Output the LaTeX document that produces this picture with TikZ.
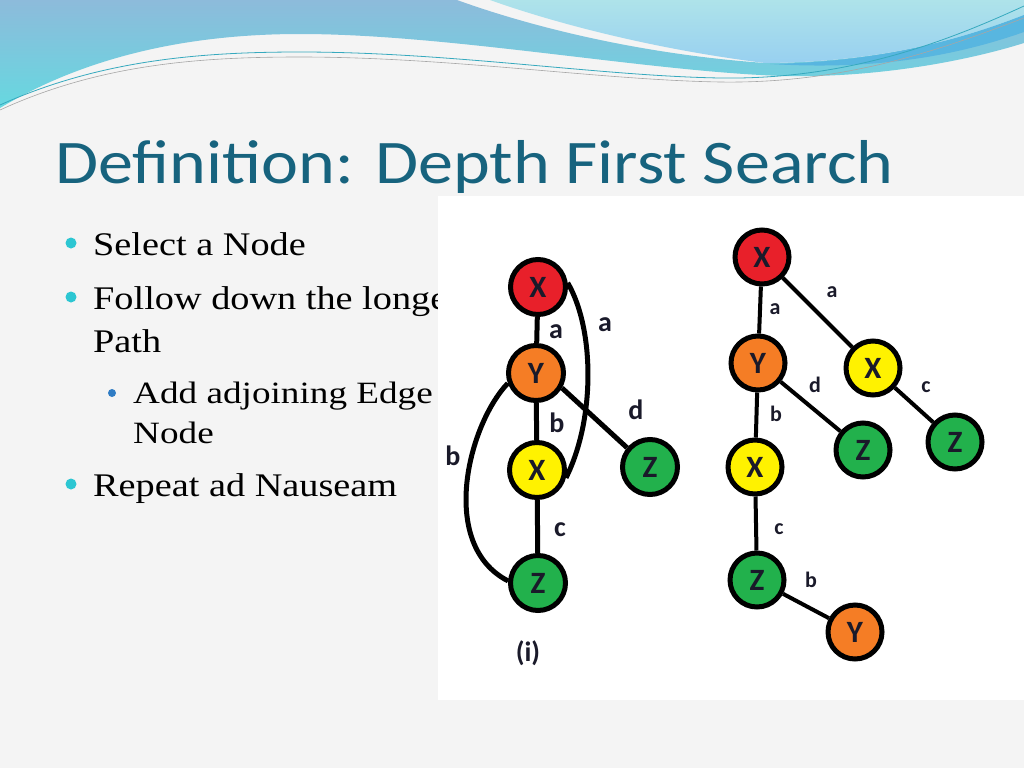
\documentclass[tikz,border=0pt]{standalone}
\usepackage{fontspec}
\setmainfont{Liberation Serif}
\newfontfamily\calfont{Carlito}
\usetikzlibrary{calc}
\definecolor{bgc}{HTML}{F4F4F4}
\definecolor{titlec}{HTML}{17637E}
\definecolor{bulc}{HTML}{2CC6D2}
\definecolor{subbulc}{HTML}{2F7CC4}
\definecolor{cred}{HTML}{E8202A}
\definecolor{corange}{HTML}{F57D25}
\definecolor{cyellow}{HTML}{FFF200}
\definecolor{cgreen}{HTML}{22B14C}
\definecolor{txtdark}{HTML}{1A1A2A}
\definecolor{bandtop}{HTML}{8DBBDB}
\definecolor{bandbot}{HTML}{66D8E0}
\definecolor{lightcy}{HTML}{AEE3EA}
\definecolor{lightcy2}{HTML}{98D0F0}
\definecolor{bandblue}{HTML}{58B6E0}
\definecolor{linecol}{HTML}{36A9BE}
\tikzset{
  gnode/.style={circle, draw=black, line width=5pt, minimum size=55pt, inner sep=0pt,
    font=\calfont\bfseries\fontsize{31}{31}\selectfont, text=txtdark},
  gnodes/.style={gnode, minimum size=54pt},
  lab/.style={font=\calfont\bfseries\fontsize{28}{28}\selectfont, text=txtdark, inner sep=0pt},
  labs/.style={font=\calfont\bfseries\fontsize{22}{22}\selectfont, text=txtdark, inner sep=0pt},
  eone/.style={line width=5pt, draw=black},
  etwo/.style={line width=4pt, draw=black},
  bul/.style={circle, fill=bulc, inner sep=0pt, minimum size=11pt},
  subbul/.style={circle, fill=subbulc, inner sep=0pt, minimum size=8pt},
  btext/.style={anchor=base west, inner sep=0pt, font=\fontsize{33}{33}\selectfont, text=black},
  stext/.style={anchor=base west, inner sep=0pt, font=\fontsize{31}{31}\selectfont, text=black}
}
\newcommand{\wideb}[1]{\scalebox{1.16}[1]{#1}}
\newcommand{\widesub}[1]{\scalebox{1.2}[1]{#1}}
\begin{document}
\begin{tikzpicture}[x=1pt,y=-1pt]
\useasboundingbox (0,0) rectangle (1024,768);
\fill[bgc] (0,0) rectangle (1024,768);
% top banner
\shade[top color=bandtop, bottom color=bandbot]
  (0,0) -- (457,0) .. controls (540,30) and (650,55) .. (765,63)
  .. controls (880,62) and (960,40) .. (1024,15) -- (1024,43)
  .. controls (970,60) and (880,78) .. (784,76)
  .. controls (650,72) and (450,34) .. (300,34)
  .. controls (180,34) and (80,60) .. (0,108) -- cycle;
\shade[top color=lightcy, bottom color=lightcy2]
  (490,0) -- (1024,0) -- (1024,15) .. controls (960,40) and (880,62) .. (765,63)
  .. controls (660,50) and (560,25) .. (490,0) -- cycle;
\fill[bandblue] (770,64) .. controls (880,62) and (960,40) .. (1024,15) -- (1024,32)
  .. controls (950,58) and (870,70) .. (770,64) -- cycle;
\draw[linecol, line width=0.8pt] (0,105) .. controls (100,60) and (200,52) .. (300,52)
  .. controls (450,52) and (600,76) .. (720,78) .. controls (850,80) and (950,40) .. (1024,6);
\draw[gray!70, line width=0.6pt] (0,110) .. controls (100,64) and (200,57) .. (300,57)
  .. controls (450,57) and (600,80) .. (720,82) .. controls (850,84) and (950,46) .. (1024,18);
% title
\node[anchor=base west, inner sep=0pt, text=titlec, font=\calfont\fontsize{62}{62}\selectfont] (title) at (55,183) {\scalebox{1.13}[1]{Definition: Depth First Search}};
% bullets
\node[bul] (b1) at (71,243) {};
\node[btext] (t1) at (93,255) {\wideb{Select a Node}};
\node[bul] (b2) at (71,297) {};
\node[btext] (t2) at (93,309) {\wideb{Follow down the longest}};
\node[btext] (t3) at (93,352) {\wideb{Path}};
\node[subbul] (b3) at (112,393) {};
\node[stext] (t4) at (133,403) {\widesub{Add adjoining Edge +}};
\node[stext] (t5) at (133,443) {\widesub{Node}};
\node[bul] (b4) at (71,484) {};
\node[btext] (t6) at (93,496) {\wideb{Repeat ad Nauseam}};
% picture area
\fill[white] (438,196) rectangle (1024,700);
% graph (i)
\node[gnode, fill=cred] (X1) at (538,287) {X};
\node[gnode, fill=corange] (Y1) at (536,373) {Y};
\node[gnode, fill=cyellow] (X2) at (537,470) {X};
\node[gnode, fill=cgreen] (Z1) at (538,583) {Z};
\node[gnode, fill=cgreen] (Z2) at (650,467) {Z};
\draw[eone] (X1) -- (Y1);
\draw[eone] (Y1) -- (X2);
\draw[eone] (X2) -- (Z1);
\draw[eone] (Y1.-30) -- (Z2.140);
\draw[eone] (X1.8) .. controls (595,330) and (595,420) .. (X2.-15);
\draw[eone] (Y1.200) .. controls (468,425) and (438,545) .. (Z1.176);
\node[lab] (la1) at (556,332) {a};
\node[lab] (la2) at (605,325) {a};
\node[lab] (lb1) at (557,423) {b};
\node[lab] (ld1) at (636,410) {d};
\node[lab] (lb2) at (453,456) {b};
\node[lab] (lc1) at (560,530) {c};
\node[lab] (li) at (528,653) {(i)};
% graph (ii)
\node[gnodes, fill=cred] (RX) at (762,257) {X};
\node[gnodes, fill=corange] (RY) at (758,363) {Y};
\node[gnodes, fill=cyellow] (RX2) at (873,368) {X};
\node[gnodes, fill=cgreen] (RZ1) at (863,450) {Z};
\node[gnodes, fill=cgreen] (RZ2) at (955,442) {Z};
\node[gnodes, fill=cyellow] (RX3) at (755,467) {X};
\node[gnodes, fill=cgreen] (RZ3) at (757,580) {Z};
\node[gnodes, fill=corange] (RY2) at (855,632) {Y};
\draw[etwo] (RX) -- (RY);
\draw[etwo] (RX) -- (RX2);
\draw[etwo] (RY) -- (RX3);
\draw[etwo] (RY) -- (RZ1);
\draw[etwo] (RX2) -- (RZ2);
\draw[etwo] (RX3) -- (RZ3);
\draw[etwo] (RZ3) -- (RY2);
\node[labs] (ra1) at (775,309) {a};
\node[labs] (ra2) at (832,292) {a};
\node[labs] (rd) at (815,385) {d};
\node[labs] (rb1) at (776,414) {b};
\node[labs] (rc1) at (926,387) {c};
\node[labs] (rc2) at (779,529) {c};
\node[labs] (rb2) at (811,580) {b};
\end{tikzpicture}
\end{document}
